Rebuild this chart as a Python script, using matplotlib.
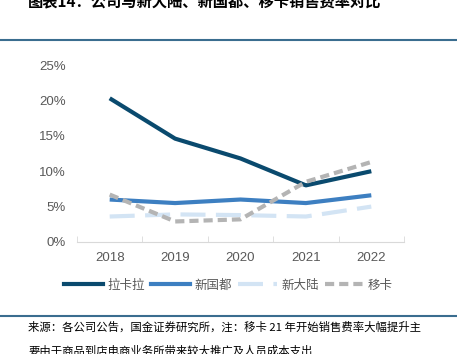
import numpy as np
import matplotlib
matplotlib.use("Agg")
import matplotlib.pyplot as plt
from matplotlib.lines import Line2D

plt.rcParams['font.family'] = ['Noto Sans CJK SC', 'DejaVu Sans']

# data (sales expense ratio, %)
years = ['2018', '2019', '2020', '2021', '2022']
lakala = [20.3, 14.6, 11.8, 8.0, 10.0]
xinguodu = [6.0, 5.5, 6.0, 5.5, 6.6]
xindalu = [3.6, 3.9, 3.8, 3.6, 5.0]
yika = [6.7, 2.9, 3.2, 8.5, 11.3]

fig = plt.figure(figsize=(4.57, 3.54), dpi=100)
ax = fig.add_axes([77/457, 1-242/354, (404-77)/457, (242-65)/354])

x = np.arange(len(years))
ax.plot(x, lakala, color='#0a4a6e', lw=3, label='拉卡拉', solid_capstyle='butt')
ax.plot(x, xinguodu, color='#3d7fc1', lw=3, label='新国都', solid_capstyle='butt')
ax.plot(x, xindalu, color='#d3e4f4', lw=3, dashes=(6, 2.5), label='新大陆')
ax.plot(x, yika, color='#b4b4b4', lw=3, dashes=(2.2, 1.2), label='移卡')

ax.set_xlim(-0.5, 4.5)
ax.set_ylim(0, 25)
ax.set_yticks([0, 5, 10, 15, 20, 25])
ax.set_yticklabels(['0%', '5%', '10%', '15%', '20%', '25%'], family='Liberation Sans')
ax.set_xticks(x)
ax.set_xticklabels(years, family='Liberation Sans')
ax.set_xticks(np.arange(-0.5, 5, 1), minor=True)
ax.tick_params(axis='x', which='major', length=0, pad=7, labelsize=9.5, colors='#595959')
ax.tick_params(axis='x', which='minor', length=4, direction='in', color='#d9d9d9')
ax.tick_params(axis='y', length=0, pad=8, labelsize=9.5, colors='#595959')
for s in ['top', 'right', 'left']:
    ax.spines[s].set_visible(False)
ax.spines['bottom'].set_color('#d9d9d9')

handles = [Line2D([], [], color='#0a4a6e', lw=3),
           Line2D([], [], color='#3d7fc1', lw=3),
           Line2D([], [], color='#d3e4f4', lw=3, dashes=(6, 2.5)),
           Line2D([], [], color='#b4b4b4', lw=3, dashes=(2.2, 1.2))]
fig.legend(handles, ['拉卡拉', '新国都', '新大陆', '移卡'], loc='center',
           bbox_to_anchor=(0.5, 1-285/354), ncol=4, frameon=False,
           fontsize=9, handlelength=3.1, columnspacing=0.5, handletextpad=0.35,
           labelcolor='#595959')

fig.text(28/457, 1-1/354, '图表14：公司与新大陆、新国都、移卡销售费率对比',
         fontsize=11, fontweight='bold', style='italic', va='center', ha='left')
fig.add_artist(Line2D([0, 1], [1-40/354, 1-40/354], color='#3a6d8f', lw=1.5))
fig.add_artist(Line2D([0, 1], [1-316/354, 1-316/354], color='#3a6d8f', lw=1.5))
fig.text(28/457, 1-327/354, '来源：各公司公告，国金证券研究所，注：移卡 21 年开始销售费率大幅提升主',
         fontsize=8.2, va='center', ha='left')
fig.text(28/457, 1-351/354, '要由于商品到店电商业务所带来较大推广及人员成本支出',
         fontsize=8.2, va='center', ha='left')

fig.savefig('out.png', dpi=100)
